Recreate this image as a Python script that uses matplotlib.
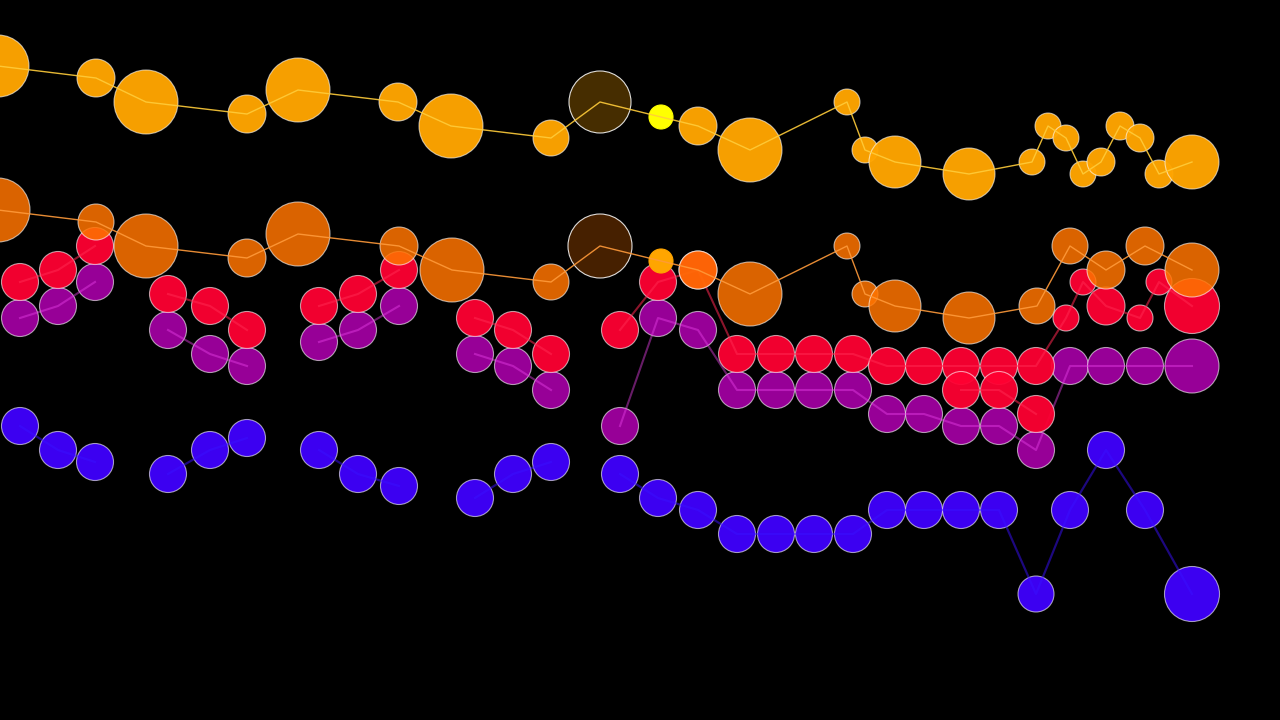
import numpy as np
import matplotlib
matplotlib.use("Agg")
import matplotlib.pyplot as plt
from matplotlib.colors import to_rgba

# screen-like units: x to the right, y downwards (levels are 12 units apart)

# top band (orange)
top_x = [-2, 96, 146, 247, 298, 398, 451, 551, 600, 661, 698, 750, 847, 865, 895,
         969, 1032, 1048, 1066, 1083, 1101, 1120, 1140, 1159, 1192]
top_y = [66, 78, 102, 114, 90, 102, 126, 138, 102, 117, 126, 150, 102, 150, 162,
         174, 162, 126, 138, 174, 162, 126, 138, 174, 162]
top_r = [31, 19, 32, 19, 32, 19, 32, 18, 31, 12, 19, 32, 13, 13, 26,
         26, 13, 13, 13, 13, 14, 14, 14, 14, 27]

# second band (dark orange)
mid_x = [-2, 96, 146, 247, 298, 399, 452, 551, 600, 661, 698, 750, 847, 865, 895,
         969, 1037, 1070, 1106, 1145, 1192]
mid_y = [210, 222, 246, 258, 234, 246, 270, 282, 246, 261, 270, 294, 246, 294, 306,
         318, 306, 246, 270, 246, 270]
mid_r = [32, 18, 32, 19, 32, 19, 32, 18, 32, 12, 19, 32, 13, 13, 26,
         26, 18, 18, 19, 19, 27]

# red band, run = which points are joined by a line
red_x = [20, 58, 95, 168, 210, 247, 319, 358, 399, 475, 513, 551,
         620, 658, 698, 737, 776, 814, 853, 887, 924, 961, 999, 1036,
         1066, 1083, 1106, 1140, 1159, 1192,
         961, 999, 1036]
red_y = [282, 270, 246, 294, 306, 330, 306, 294, 270, 318, 330, 354,
         330, 282, 270, 354, 354, 354, 354, 366, 366, 366, 366, 366,
         318, 282, 306, 318, 282, 306,
         390, 390, 414]
red_r = [18.5, 18.5, 18.5, 18.5, 18.5, 18.5, 18.5, 18.5, 18.5, 18.5, 18.5, 18.5,
         18.5, 18.5, 19, 18.5, 18.5, 18.5, 18.5, 18.5, 18.5, 18.5, 18.5, 18.5,
         13, 13, 19, 13, 13, 27.5,
         18.5, 18.5, 18.5]
red_run = [0, 0, 0, 1, 1, 1, 2, 2, 2, 3, 3, 3,
           4, 4, 4, 4, 4, 4, 4, 4, 4, 4, 4, 4,
           4, 4, 4, 4, 4, 4,
           5, 5, 5]

# purple and blue bands share x positions
low_x = [20, 58, 95, 168, 210, 247, 319, 358, 399, 475, 513, 551,
         620, 658, 698, 737, 776, 814, 853, 887, 924, 961, 999, 1036,
         1070, 1106, 1145, 1192]
low_run = [0, 0, 0, 1, 1, 1, 2, 2, 2, 3, 3, 3,
           4, 4, 4, 4, 4, 4, 4, 4, 4, 4, 4, 4,
           4, 4, 4, 4]

purple_y = [318, 306, 282, 330, 354, 366, 342, 330, 306, 354, 366, 390,
            426, 318, 330, 390, 390, 390, 390, 414, 414, 426, 426, 450,
            366, 366, 366, 366]
purple_r = [18.5, 18.5, 18.5, 18.5, 18.5, 18.5, 18.5, 18.5, 18.5, 18.5, 18.5, 18.5,
            18.5, 18.5, 18.5, 18.5, 18.5, 18.5, 18.5, 18.5, 18.5, 18.5, 18.5, 18.5,
            18.5, 18.5, 18.5, 27]

blue_y = [426, 450, 462, 474, 450, 438, 450, 474, 486, 498, 474, 462,
          474, 498, 510, 534, 534, 534, 534, 510, 510, 510, 510, 594,
          510, 450, 510, 594]
blue_r = [18.5, 18.5, 18.5, 18.5, 18.5, 18.5, 18.5, 18.5, 18.5, 18.5, 18.5, 18.5,
          18.5, 18.5, 18.5, 18.5, 18.5, 18.5, 18.5, 18.5, 18.5, 18.5, 18.5, 18,
          18.5, 18.5, 18.5, 27.5]


fig = plt.figure(figsize=(12.8, 7.2), dpi=100, facecolor="black")
ax = fig.add_axes([0, 0, 1, 1])
ax.set_facecolor("black")
ax.set_xlim(0, 1280)
ax.set_ylim(720, 0)
ax.axis("off")

PT = 72 / fig.dpi  # one pixel in points


def bubbles(x, y, r, color, alpha, line_color, line_alpha, lw, z,
            run=None, faded=None, hot=None, hot_color=None):
    x = np.asarray(x, float)
    y = np.asarray(y, float)
    r = np.asarray(r, float)
    n = len(x)
    face = [to_rgba(color, alpha)] * n
    edge = [(1, 1, 1, 0.6)] * n
    if faded is not None:
        face[faded] = to_rgba(color, 0.28)
        edge[faded] = (1, 1, 1, 0.85)
    if hot is not None:
        face[hot] = to_rgba(hot_color, 1)
        edge[hot] = to_rgba(hot_color, 1)
    ax.scatter(x, y, s=(2 * r * PT) ** 2, c=face, edgecolors=edge,
               linewidths=0.8, zorder=z)
    runs = np.zeros(n) if run is None else np.asarray(run)
    for k in np.unique(runs):
        m = runs == k
        ax.plot(x[m], y[m], color=line_color, alpha=line_alpha, lw=lw,
                zorder=z + 0.5)


bubbles(low_x, blue_y, blue_r, "#4000ff", 0.95, "#3a10ff", 0.5, 1.6, 1, run=low_run)
bubbles(low_x, purple_y, purple_r, "#a000a0", 0.95, "#e640e6", 0.45, 1.5, 2, run=low_run)
bubbles(red_x, red_y, red_r, "#ff0032", 0.95, "#ff2850", 0.55, 1.5, 3, run=red_run)
bubbles(mid_x, mid_y, mid_r, "#ff7400", 0.86, "#ff9a3a", 0.9, 1.0, 4,
        faded=8, hot=9, hot_color="#ffa500")
bubbles(top_x, top_y, top_r, "#ffa500", 0.97, "#ffcc3a", 0.9, 1.0, 5,
        faded=8, hot=9, hot_color="#ffff00")

fig.savefig("out.png", dpi=100, facecolor="black")
